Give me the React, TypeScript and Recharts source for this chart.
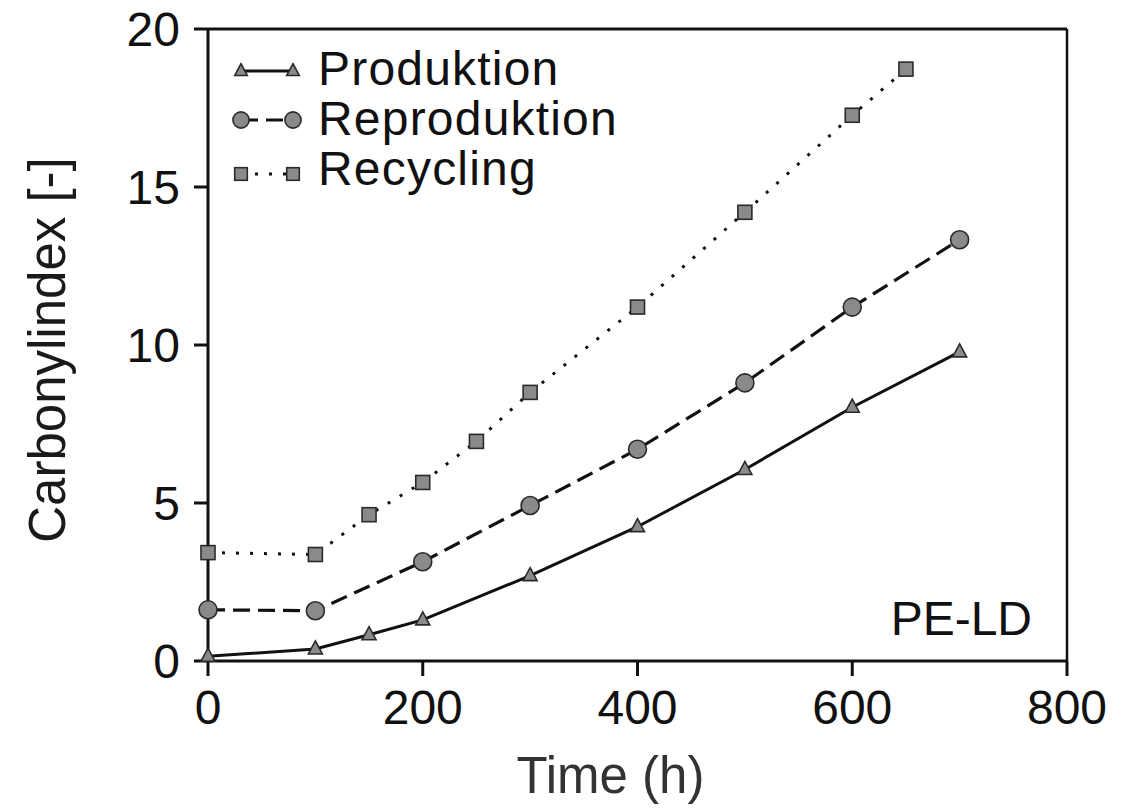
import React from 'react';
import { LineChart, Line, XAxis, YAxis, Legend, ReferenceLine, Customized } from 'recharts';

// Carbonyl index of PE-LD over exposure time, three material histories
const produktionTime = [0, 100, 150, 200, 300, 400, 500, 600, 700];
const produktionValues = [0.15, 0.38, 0.83, 1.3, 2.7, 4.25, 6.06, 8.03, 9.78];

const reproduktionTime = [0, 100, 200, 300, 400, 500, 600, 700];
const reproduktionValues = [1.62, 1.59, 3.14, 4.92, 6.7, 8.8, 11.2, 13.33];

const recyclingTime = [0, 100, 150, 200, 250, 300, 400, 500, 600, 650];
const recyclingValues = [3.43, 3.37, 4.63, 5.65, 6.95, 8.5, 11.2, 14.2, 17.27, 18.73];

const xTicks = [0, 200, 400, 600, 800];
const yTicks = [0, 5, 10, 15, 20];

const seriesNames = ['Produktion', 'Reproduktion', 'Recycling'];

const toRows = (t: number[], v: number[]) => t.map((time, i) => ({ t: time, v: v[i] }));
const produktionData = toRows(produktionTime, produktionValues);
const reproduktionData = toRows(reproduktionTime, reproduktionValues);
const recyclingData = toRows(recyclingTime, recyclingValues);

const FONT = '"Liberation Sans", Arial, Helvetica, sans-serif';
const INK = '#111';
const MARK_FILL = '#8a8a8a';
const MARK_EDGE = '#2a2a2a';

type Kind = 'triangle' | 'circle' | 'square';

function Marker({ kind, cx, cy, scale = 1 }: { kind: Kind; cx: number; cy: number; scale?: number }) {
  if (kind === 'triangle') {
    const w = 14 * scale;
    const h = 13 * scale;
    const d = `M${cx},${cy - h * 0.62} L${cx + w / 2},${cy + h * 0.38} L${cx - w / 2},${cy + h * 0.38} Z`;
    return <path d={d} fill={MARK_FILL} stroke={MARK_EDGE} strokeWidth={1.6} />;
  }
  if (kind === 'circle') {
    return <circle cx={cx} cy={cy} r={9 * scale} fill={MARK_FILL} stroke={MARK_EDGE} strokeWidth={1.6} />;
  }
  const s = 14 * scale;
  return <rect x={cx - s / 2} y={cy - s / 2} width={s} height={s} fill={MARK_FILL} stroke={MARK_EDGE} strokeWidth={1.6} />;
}

const dotFor = (kind: Kind) => (props: any) => {
  const { cx, cy, index } = props;
  if (cx == null || cy == null) return <g key={`${kind}-${index}`} />;
  return (
    <g key={`${kind}-${index}`}>
      <Marker kind={kind} cx={cx} cy={cy} />
    </g>
  );
};

const legendRows: { name: string; kind: Kind; dash?: string; y: number; base: number }[] = [
  { name: seriesNames[0], kind: 'triangle', y: 71, base: 85 },
  { name: seriesNames[1], kind: 'circle', dash: '17 8', y: 120, base: 135 },
  { name: seriesNames[2], kind: 'square', dash: '3 11', y: 174, base: 185 },
];

function LegendBox() {
  return (
    <svg width={700} height={220} style={{ display: 'block', overflow: 'visible' }}>
      {legendRows.map((r) => (
        <g key={r.name}>
          <line x1={241} x2={293} y1={r.y} y2={r.y} stroke={INK} strokeWidth={3} strokeDasharray={r.dash} />
          <Marker kind={r.kind} cx={241} cy={r.y} scale={0.9} />
          <Marker kind={r.kind} cx={293} cy={r.y} scale={0.9} />
          <text x={318} y={r.base} fontFamily={FONT} fontSize={48} letterSpacing={1.2} fill={INK}>
            {r.name}
          </text>
        </g>
      ))}
    </svg>
  );
}

export default function App() {
  return (
    <div style={{ position: 'absolute', left: 0, top: 0, width: 1134, height: 812, background: '#fff' }}>
      <LineChart width={1134} height={812} margin={{ top: 29, right: 67, left: 0, bottom: 0 }}>
        <XAxis
          dataKey="t"
          type="number"
          domain={[0, 800]}
          ticks={xTicks}
          allowDuplicatedCategory={false}
          height={151}
          tickSize={15}
          tickMargin={14}
          axisLine={{ stroke: INK, strokeWidth: 3 }}
          tickLine={{ stroke: INK, strokeWidth: 3 }}
          tick={{ fill: INK, fontSize: 48, fontFamily: FONT }}
          label={{
            content: (p: any) => {
              const vb = p.viewBox;
              return (
                <text
                  x={vb.x + vb.width / 2 - 27}
                  y={vb.y + vb.height - 19}
                  textAnchor="middle"
                  fontFamily={FONT}
                  fontSize={51}
                  fill="#333"
                >
                  Time (h)
                </text>
              );
            },
          }}
        />
        <YAxis
          type="number"
          domain={[0, 20]}
          ticks={yTicks}
          width={208}
          tickSize={14}
          tickMargin={14}
          axisLine={{ stroke: INK, strokeWidth: 3 }}
          tickLine={{ stroke: INK, strokeWidth: 3 }}
          tick={{ fill: INK, fontSize: 48, fontFamily: FONT }}
          label={{
            content: (p: any) => {
              const vb = p.viewBox;
              const cy = vb.y + vb.height / 2 + 5;
              return (
                <text
                  x={65}
                  y={cy}
                  transform={`rotate(-90, 65, ${cy})`}
                  textAnchor="middle"
                  fontFamily={FONT}
                  fontSize={51}
                  fill="#1a1a1a"
                >
                  Carbonylindex [-]
                </text>
              );
            },
          }}
        />
        <ReferenceLine y={20} stroke={INK} strokeWidth={3} />
        <ReferenceLine x={800} stroke={INK} strokeWidth={2.5} />
        <Line
          data={produktionData}
          dataKey="v"
          name={seriesNames[0]}
          stroke={INK}
          strokeWidth={3}
          dot={dotFor('triangle')}
          isAnimationActive={false}
          type="linear"
        />
        <Line
          data={reproduktionData}
          dataKey="v"
          name={seriesNames[1]}
          stroke={INK}
          strokeWidth={3.2}
          strokeDasharray="17 8"
          dot={dotFor('circle')}
          isAnimationActive={false}
          type="linear"
        />
        <Line
          data={recyclingData}
          dataKey="v"
          name={seriesNames[2]}
          stroke={INK}
          strokeWidth={3}
          strokeDasharray="3 11"
          dot={dotFor('square')}
          isAnimationActive={false}
          type="linear"
        />
        <Legend
          layout="vertical"
          align="center"
          verticalAlign="middle"
          wrapperStyle={{ left: 0, top: 0, width: 700, height: 220 }}
          content={() => <LegendBox />}
        />
        <Customized
          component={() => (
            <text x={1032} y={635} textAnchor="end" fontFamily={FONT} fontSize={48} fill={INK}>
              PE-LD
            </text>
          )}
        />
      </LineChart>
    </div>
  );
}
